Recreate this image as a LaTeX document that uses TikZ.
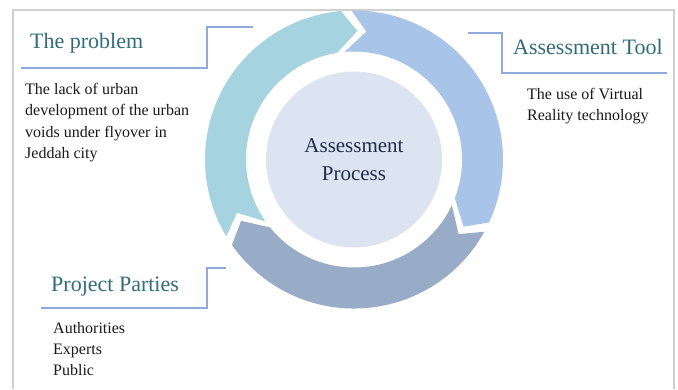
\documentclass[tikz,border=0pt]{standalone}
\usepackage{fontspec}
\setmainfont{Liberation Serif}

\definecolor{framegray}{RGB}{208,208,208}
\definecolor{bracketblue}{RGB}{142,170,219}
\definecolor{headteal}{RGB}{49,108,122}
\definecolor{arrowteal}{RGB}{165,211,224}
\definecolor{arrowblue}{RGB}{168,196,232}
\definecolor{arrowgray}{RGB}{152,172,199}
\definecolor{corefill}{RGB}{219,228,240}
\definecolor{corenavy}{RGB}{31,45,74}

\begin{document}
\begin{tikzpicture}[x=1pt,y=1pt,
    heading/.style={anchor=base west, inner sep=0, text=headteal, font=\fontsize{22}{26}\selectfont},
    bodytext/.style={anchor=north west, inner sep=0, align=left, text=black!90, font=\fontsize{16}{21.3}\selectfont},
    bracket/.style={draw=bracketblue, line width=1.2}]
    \useasboundingbox (0,0) rectangle (678,389);
    \draw[framegray, line width=1.5] (13,0) -- (13,379) -- (674,379) -- (674,0);

    \begin{scope}[shift={(354,229.5)}]
        \fill[arrowteal] (211:149) arc[start angle=211, end angle=95, radius=149] -- (88.5:128.5)
            -- (99:108) arc[start angle=99, end angle=215, radius=108] -- (204.5:128.5) -- cycle;
        \fill[arrowblue] (91:149) arc[start angle=91, end angle=-25, radius=149] -- (-31.5:128.5)
            -- (-21:108) arc[start angle=-21, end angle=95, radius=108] -- (84.5:128.5) -- cycle;
        \fill[arrowgray] (-29:149) arc[start angle=-29, end angle=-145, radius=149] -- (-151.5:128.5)
            -- (-141:108) arc[start angle=-141, end angle=-25, radius=108] -- (-35.5:128.5) -- cycle;
        \node[circle, fill=corefill, minimum size=176, inner sep=0, align=center, text=corenavy,
            font=\fontsize{21}{28}\selectfont] (process) at (0,0) {Assessment\\Process};
    \end{scope}

    \node[heading] (problem) at (30,340) {The problem};
    \node[bodytext] (problemtext) at (25,306) {The lack of urban\\development of the urban\\voids under flyover in\\Jeddah city};
    \draw[bracket] (21,321) -- (207,321) -- (207,362) -- (253,362);

    \node[heading] (tool) at (513,334) {Assessment Tool};
    \node[bodytext] (tooltext) at (527,301) {The use of Virtual\\Reality technology};
    \draw[bracket] (468,356) -- (502,356) -- (502,316) -- (667,316);

    \node[heading] (parties) at (51,98) {Project Parties};
    \node[bodytext] (partiestext) at (53,67) {Authorities\\Experts\\Public};
    \draw[bracket] (41,81) -- (207,81) -- (207,121) -- (226,121);
\end{tikzpicture}
\end{document}
